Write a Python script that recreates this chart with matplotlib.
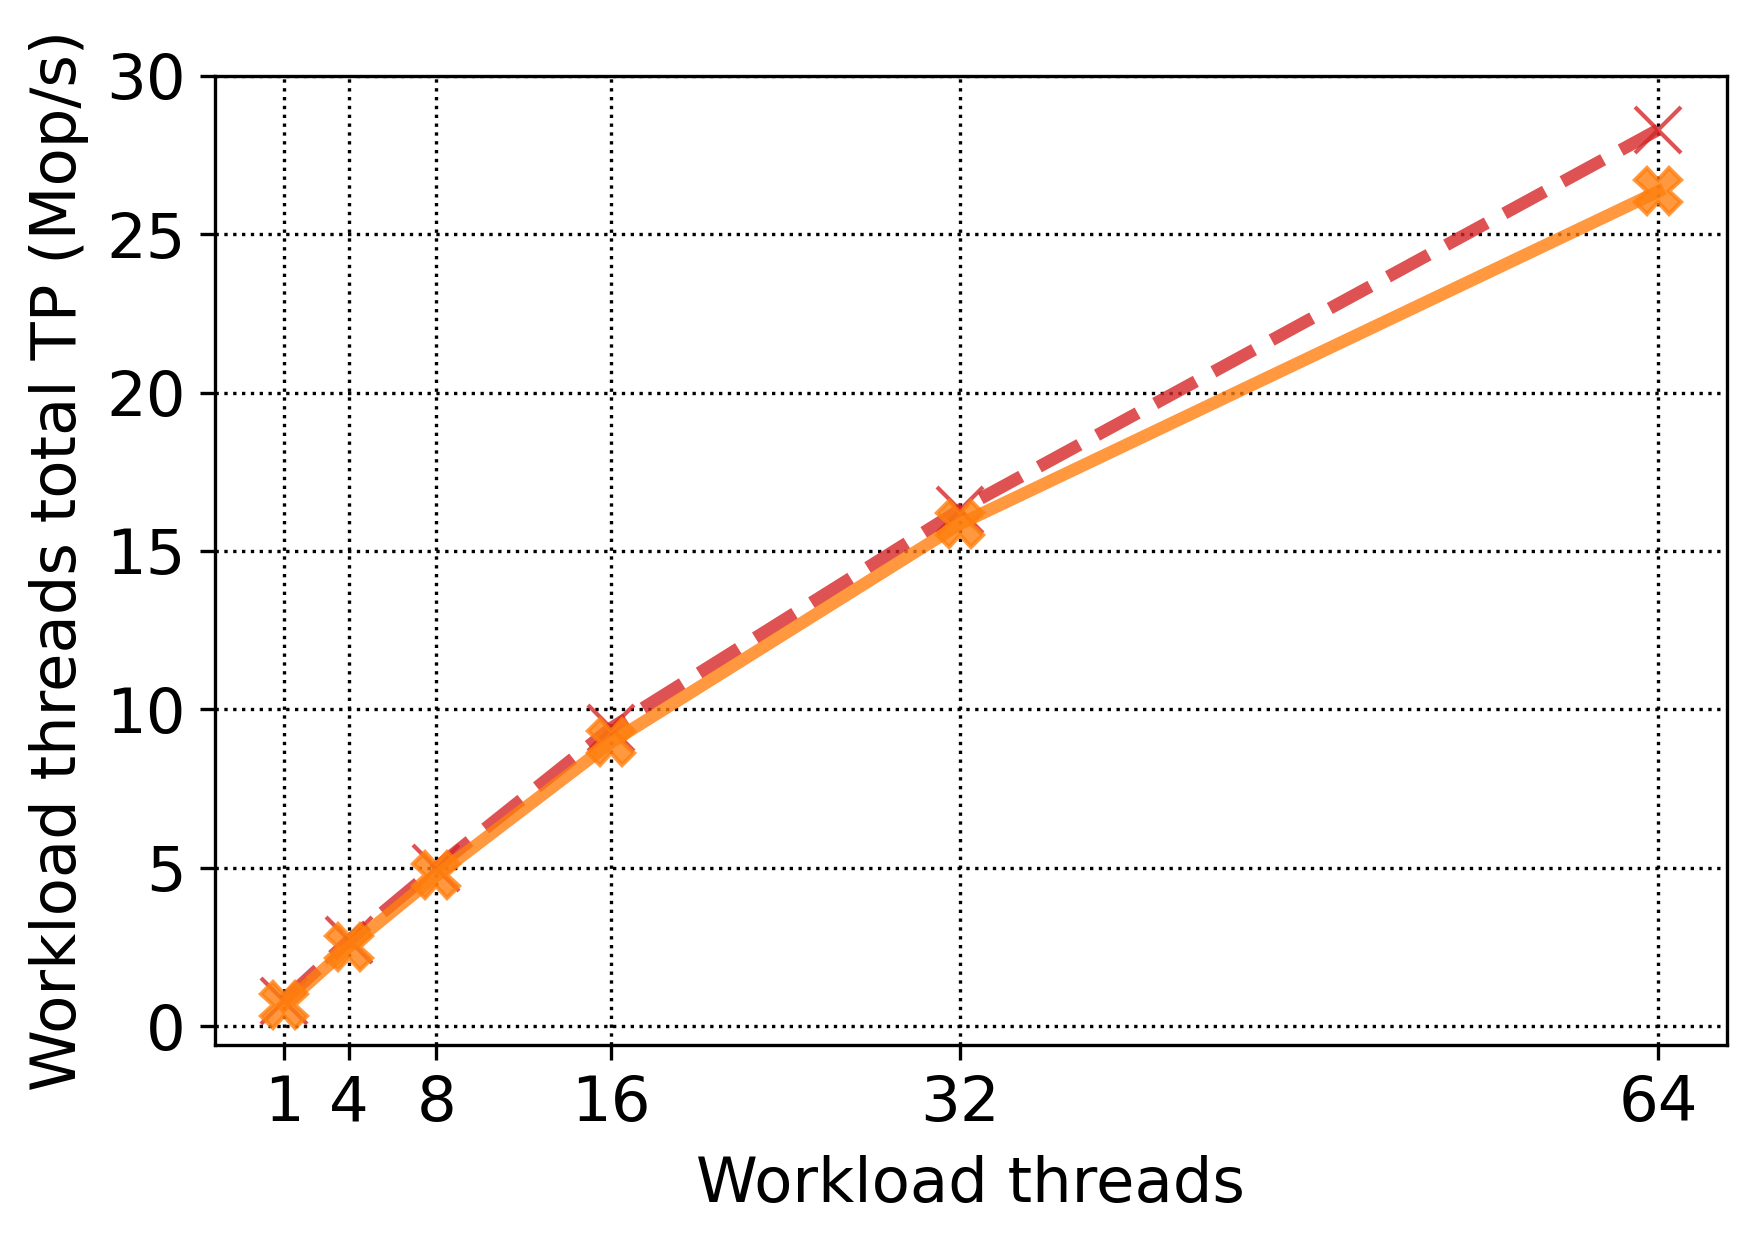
import matplotlib
matplotlib.use("Agg")
import matplotlib.pyplot as plt

threads = [1, 4, 8, 16, 32, 64]
tp_red = [0.8, 2.7, 5.0, 9.4, 16.3, 28.3]
tp_orange = [0.65, 2.5, 4.75, 8.95, 15.85, 26.35]

plt.rcParams['font.size'] = 15

fig, ax = plt.subplots(figsize=(5.853, 4.137), dpi=300)

ax.plot(threads, tp_red, color='tab:red', linestyle='--', marker='x',
        linewidth=3, markersize=11, alpha=0.8)
ax.plot(threads, tp_orange, color='tab:orange', linestyle='-', marker='X',
        linewidth=3, markersize=11, alpha=0.8)

ax.set_xticks(threads)
ax.set_ylim(-0.6, 30)
ax.grid(True, linestyle=':', color='black', linewidth=0.8)
ax.set_xlabel("Workload threads", labelpad=5)
ax.set_ylabel("Workload threads total TP (Mop/s)")

fig.subplots_adjust(left=0.1224, right=0.9835, top=0.9388, bottom=0.158)
plt.savefig("out.png", dpi=300)
